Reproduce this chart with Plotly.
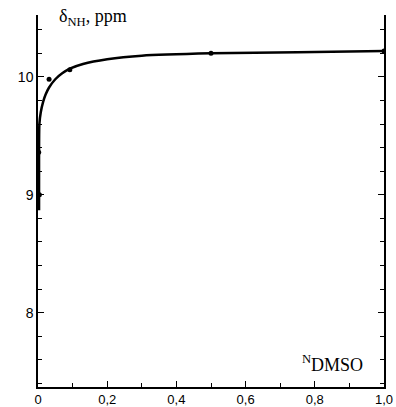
import plotly.graph_objects as go

# measured points
pts_x = [0.004, 0.002, 0.032, 0.092, 0.5, 1.0]
pts_y = [9.0, 9.36, 9.98, 10.06, 10.2, 10.22]

# fitted curve
curve_x = [0.003, 0.003, 0.004, 0.008, 0.015, 0.022, 0.032, 0.05, 0.07, 0.092, 0.13, 0.2, 0.3, 0.5, 0.75, 1.0]
curve_y = [8.87, 9.3, 9.6, 9.7, 9.79, 9.85, 9.91, 9.98, 10.03, 10.07, 10.11, 10.15, 10.18, 10.2, 10.21, 10.22]

x_ticks = [0, 0.2, 0.4, 0.6, 0.8, 1.0]
x_ticklabels = ["0", "0,2", "0,4", "0,6", "0,8", "1,0"]
y_ticks = [8, 9, 10]
y_ticklabels = ["8", "9", "10"]

fig = go.Figure()
fig.add_trace(go.Scatter(x=curve_x, y=curve_y, mode="lines",
                         line=dict(color="black", width=2.5, shape="spline", smoothing=0.6),
                         hoverinfo="skip", showlegend=False))
fig.add_trace(go.Scatter(x=pts_x, y=pts_y, mode="markers",
                         marker=dict(color="black", size=5), showlegend=False))

fig.update_layout(
    width=396, height=407,
    margin=dict(l=38, r=12, t=15, b=20, autoexpand=False),
    paper_bgcolor="white", plot_bgcolor="white",
    font=dict(family="Liberation Sans", color="black", size=13),
    xaxis=dict(range=[0, 1.0], showgrid=False, zeroline=False, showline=True, automargin=False,
               linecolor="black", linewidth=1.5, ticks="inside", ticklen=6,
               tickcolor="black", tickvals=x_ticks, ticktext=x_ticklabels,
               minor=dict(dtick=0.1, tick0=0, ticks="inside", ticklen=4, tickcolor="black"),
               tickfont=dict(size=13)),
    yaxis=dict(range=[7.37, 10.525], showgrid=False, zeroline=False, showline=True, automargin=False,
               linecolor="black", linewidth=1.5, mirror="ticks", ticks="inside", ticklen=6,
               tickcolor="black", tickvals=y_ticks, ticktext=y_ticklabels,
               minor=dict(dtick=0.2, tick0=8, ticks="inside", ticklen=4, tickcolor="black"),
               tickfont=dict(size=14)),
    annotations=[
        dict(x=0.055, y=10.5, xref="x", yref="y", xanchor="left", yanchor="middle",
             text="δ<sub>NH</sub>, ppm", showarrow=False,
             font=dict(family="Liberation Serif", size=18)),
        dict(x=0.945, y=7.57, xref="x", yref="y", xanchor="right", yanchor="middle",
             text="<sup>N</sup>DMSO", showarrow=False,
             font=dict(family="Liberation Serif", size=18)),
    ],
)
fig.write_html("out.html", config={"displayModeBar": False},
               post_script="document.body.style.margin='0';document.body.style.overflow='hidden';")
